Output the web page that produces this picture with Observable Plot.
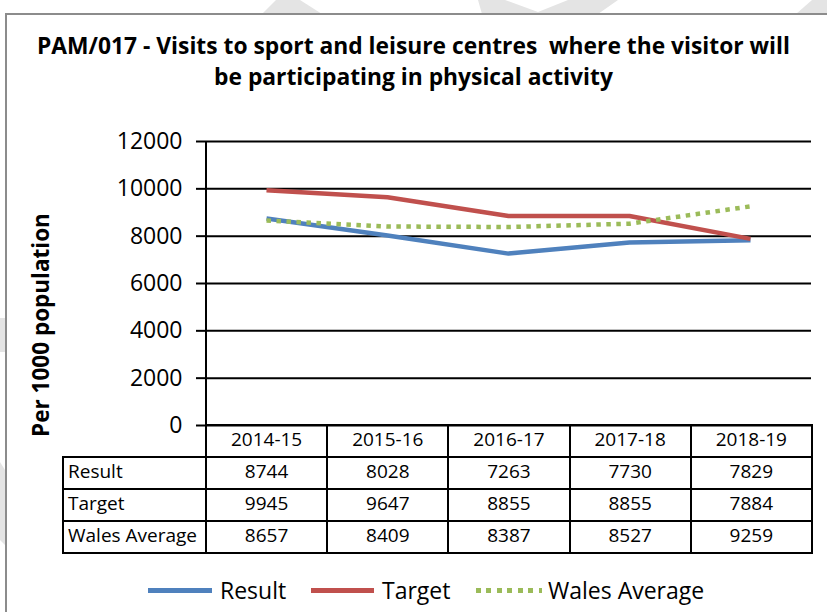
<!DOCTYPE html>
<html><head><meta charset="utf-8">
<script src="https://cdn.jsdelivr.net/npm/d3@7"></script>
<script src="https://cdn.jsdelivr.net/npm/@observablehq/plot@0.6"></script>
<style>
body{margin:0;background:#fff;}
#wrap{position:relative;width:827px;height:612px;overflow:hidden;font-family:"Open Sans",sans-serif;color:#000;background:#fff}
#wm{position:absolute;left:0;top:0}
#border{position:absolute;left:5px;top:13px;width:900px;height:700px;border:2px solid #8c8c8c;background:#fff}
#title{position:absolute;left:0;top:30px;width:827px;text-align:center;font-weight:bold;font-size:22.8px;line-height:31px;}
#ylab{position:absolute;left:40px;top:325px;transform:translate(-50%,-50%) rotate(-90deg);font-weight:bold;font-size:22.5px;white-space:nowrap}
#chart{position:absolute;left:0;top:0}
#tbl{position:absolute;left:62px;top:424px;border-collapse:collapse;table-layout:fixed;font-size:19px}
#tbl td{border:2px solid #000;height:27px;padding:0 0 3px 0;text-align:center;line-height:27px}
#tbl td.lab{text-align:left;padding-left:4px}
#tbl td.blank{border:none;border-bottom:2px solid #000}
#legend{position:absolute;left:0;top:574px;width:827px;font-size:23px}
.li{position:absolute;top:0;height:32px;line-height:32px;white-space:nowrap}
.sw{position:absolute;top:14px;height:5px}
</style></head>
<body><div id="wrap">
<svg id="wm" width="827" height="612">
  <g fill="#e4e4e4">
    <polygon points="262,14 276,0 300,0 322,14"/>
    <polygon points="478,0 505,0 538,12 568,0 618,0 598,14 482,14"/>
    <polygon points="796,14 812,0 827,0 827,14"/>
    <polygon points="0,318 5,318 5,352 0,352"/>
    <polygon points="0,462 5,470 5,545 0,540"/>
  </g>
</svg>
<div id="border"></div>
<div id="title">PAM/017 - Visits to sport and leisure centres&nbsp; where the visitor will<br>be participating in physical activity</div>
<div id="ylab">Per 1000 population</div>
<div id="chart"></div>
<table id="tbl"></table>
<div id="legend"></div>
</div>
<script>
const years = ["2014-15","2015-16","2016-17","2017-18","2018-19"];
const result = [8744, 8028, 7263, 7730, 7829];
const target = [9945, 9647, 8855, 8855, 7884];
const walesAverage = [8657, 8409, 8387, 8527, 9259];
const seriesNames = ["Result","Target","Wales Average"];
const colors = ["#4F81BD","#C0504D","#9BBB59"];
const yTicks = [0,2000,4000,6000,8000,10000,12000];

const seriesValues = [result, target, walesAverage];
const rows = seriesNames.flatMap((s,i)=>years.map((y,j)=>({series:s, year:y, value:seriesValues[i][j]})));

const chart = Plot.plot({
  width: 827, height: 612,
  marginLeft: 205, marginRight: 16, marginTop: 141, marginBottom: 187,
  style: {background:"transparent", fontFamily:"Open Sans, sans-serif", fontSize:"23px", color:"#000"},
  x: {type:"point", domain: years, padding: 0.5, axis: null},
  y: {domain:[0,12000], ticks: yTicks, tickSize: 9, tickPadding: 14, label: null, tickFormat: d=>String(d)},
  marks: [
    Plot.ruleY(yTicks, {stroke:"#000", strokeWidth:2, strokeOpacity:1}),
    ...seriesNames.map((s,i)=>Plot.line(rows.filter(r=>r.series===s), {
      x:"year", y:"value", stroke: colors[i], strokeWidth: 4.5,
      strokeDasharray: i===2 ? "4.5,5.5" : null, strokeLinecap: "butt", strokeLinejoin:"round"
    }))
  ]
});
document.getElementById("chart").appendChild(chart);
const svg = d3.select(chart);
svg.selectAll("[aria-label='y-axis tick'] path").attr("stroke","#000").attr("stroke-width",2);
svg.append("line").attr("x1",206).attr("x2",206).attr("y1",141).attr("y2",425).attr("stroke","#000").attr("stroke-width",2);

// table
const tbl = d3.select("#tbl");
const colg = tbl.append("colgroup");
colg.append("col").style("width","143px");
years.forEach(()=>colg.append("col").style("width","121.2px"));
const hr = tbl.append("tr");
hr.append("td").attr("class","blank").style("border-right","2px solid #000");
years.forEach(y=>hr.append("td").text(y));
seriesNames.forEach((s,i)=>{
  const tr = tbl.append("tr");
  tr.append("td").attr("class","lab").text(s);
  seriesValues[i].forEach(v=>tr.append("td").text(v));
});

// legend
const lg = d3.select("#legend");
const legendPos = [[148,64,220],[311,63,382],[476,66,548]];
seriesNames.forEach((s,i)=>{
  const [x,w,tx] = legendPos[i];
  const sw = lg.append("div").attr("class","sw").style("left",x+"px").style("width",w+"px");
  if(i===2) sw.style("background",`repeating-linear-gradient(90deg, ${colors[i]} 0 5px, transparent 5px 10.5px)`);
  else sw.style("background",colors[i]);
  lg.append("div").attr("class","li").style("left",tx+"px").text(s);
});
</script>
</body></html>
